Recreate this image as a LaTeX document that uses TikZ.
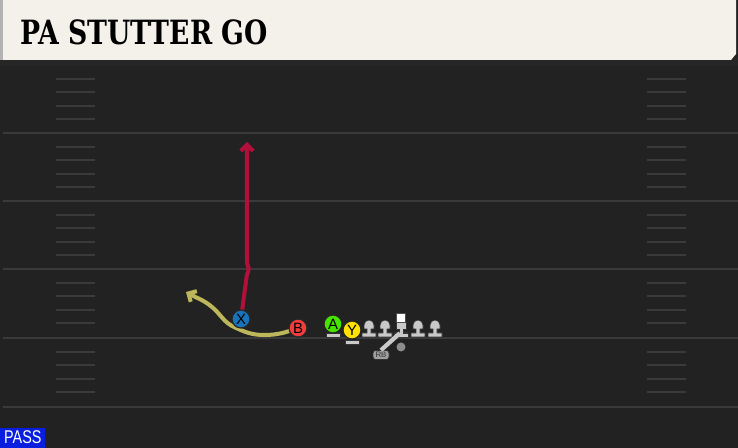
\documentclass[tikz,border=0pt]{standalone}
\usepackage{fontspec}
\setsansfont{Liberation Sans}
\newfontfamily\titlefont{DejaVu Serif}
\usetikzlibrary{arrows.meta, positioning}
\pgfdeclarelayer{field}
\pgfdeclarelayer{routes}
\pgfsetlayers{field,routes,main}
\definecolor{fieldgray}{HTML}{222222}
\definecolor{linegray}{HTML}{3A3A3A}
\definecolor{cream}{HTML}{F4F1EA}
\definecolor{routered}{HTML}{B0103A}
\definecolor{routeyellow}{HTML}{BDB65A}
\definecolor{manlight}{HTML}{C9C9C9}
\definecolor{passblue}{HTML}{0A1EE0}
\tikzstyle{yardline} = [draw=linegray, line width=1.3pt]
\tikzstyle{hash} = [draw=linegray, line width=1.1pt]
\tikzstyle{player} = [circle, draw=black!85, line width=0.7pt, minimum size=0.36cm, inner sep=0pt, font=\sffamily\fontsize{8.5}{8.5}\selectfont]
\tikzstyle{route} = [line width=2.3pt, line cap=round, line join=round, -{Straight Barb[length=3.5pt,width=7pt]}]
\tikzstyle{lineman} = [fill=manlight, draw=black!80, line width=0.4pt]

\begin{document}
\begin{tikzpicture}[x=0.02cm, y=-0.02cm]
        \useasboundingbox (0,0) rectangle (738,448);
        % field
        \begin{pgfonlayer}{field}
        \fill[fieldgray] (0,0) rectangle (738,448);
        \foreach \yy in {133,201,269,338,407} {
            \draw[yardline] (3,\yy) -- (738,\yy);
        }
        \foreach \yy in {65,133,201,269,338} {
            \foreach \k in {1,...,4} {
                \draw[hash] (56,\yy+13.6*\k) -- (95,\yy+13.6*\k);
                \draw[hash] (647,\yy+13.6*\k) -- (686,\yy+13.6*\k);
            }
        }
        \draw[yardline] (0,65) -- (738,65);
        \end{pgfonlayer}

        % header
        \fill[black!85] (0,58) rectangle (738,66);
        \fill[cream] (0,0) -- (736,0) -- (736,54) -- (731,60) -- (0,60) -- cycle;
        \fill[black!30] (0,0) rectangle (3,60);
        \node[anchor=west, inner sep=0pt] (title) at (20,32)
            {\scalebox{0.8}[1]{\titlefont\bfseries\fontsize{19}{19}\selectfont PA STUTTER GO}};

        % offensive line
        \foreach \xx in {369,385,418,435} {
            \draw[lineman] (\xx-5,329) -- (\xx-5,325) arc[start angle=180, end angle=360, radius=5] -- (\xx+5,329)
                -- (\xx+2,329) -- (\xx+2,333) -- (\xx+7,333) -- (\xx+7,337) -- (\xx-7,337) -- (\xx-7,333)
                -- (\xx-2,333) -- (\xx-2,329) -- cycle;
        }
        \coordinate (qb) at (401,347);
        \draw[lineman] (396,322) -- (406,322) -- (406,329) -- (403,329) -- (403,333) -- (408,333) -- (408,337)
            -- (394,337) -- (394,333) -- (399,333) -- (399,329) -- (396,329) -- cycle;
        \node[rectangle, fill=white, draw=black!70, minimum size=0.19cm, inner sep=0pt] (center) at (401,318) {};
        \fill[manlight!70!black] (qb) circle (4.5);
        \node[rectangle, rounded corners=1.5pt, fill=manlight!80!black, draw=black!80, line width=0.4pt,
              minimum width=0.32cm, minimum height=0.18cm, inner sep=0pt,
              font=\sffamily\fontsize{4.5}{4.5}\selectfont, text=black!80] (rb) at (381,355) {RB};
        \draw[manlight, line width=2.4pt] (center.south) ++(-1,10) -- (rb.north);

        % receivers
        \draw[lineman] (326,333) rectangle (340,337);
        \draw[lineman] (345,340) rectangle (359,344);
        \node[player, fill=green!60!lime!90!black] (A) at (333,324) {A};
        \node[player, fill=yellow!85!orange] (Y) at (352,330) {Y};
        \node[player, fill=red!75!white!95!black] (B) at (298,328) {B};
        \node[player, fill=blue!45!cyan!70!black!90] (X) at (241,319) {X};

        % routes
        \coordinate (goend) at (247,142);
        \coordinate (flatend) at (186,292);
        \begin{pgfonlayer}{routes}
        \draw[route, routered] (X.center) -- (247,274) to[out=-80, in=90] (249,268) to[out=-90, in=-90] (247,261) -- (goend);
        \draw[route, routeyellow] (B.center) to[out=200, in=0] (264,335) to[out=180, in=-25] (234,327)
              to[out=155, in=-40] (212,307) to[out=140, in=-30] (flatend);
        \end{pgfonlayer}

        % play type
        \node[anchor=south west, fill=passblue, text=white, inner sep=0pt, minimum width=0.9cm, minimum height=0.4cm] (type) at (0,448)
            {\scalebox{0.78}[1]{\sffamily\fontsize{10.5}{10.5}\selectfont PASS}};
\end{tikzpicture}
\end{document}
